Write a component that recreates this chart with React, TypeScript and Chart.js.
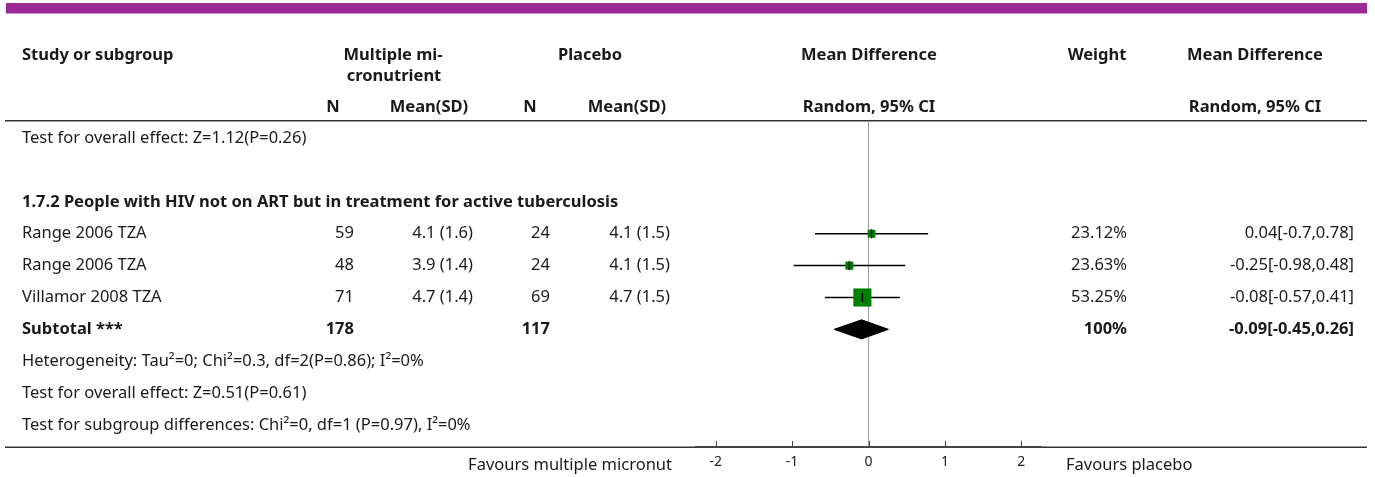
import React, { useEffect, useRef } from "react";
import { Chart, registerables } from "chart.js";

Chart.register(...registerables);

// ---------- data ----------
const studyNames = ["Range 2006 TZA", "Range 2006 TZA", "Villamor 2008 TZA"];
const treatN = [59, 48, 71];
const treatMeanSD = ["4.1 (1.6)", "3.9 (1.4)", "4.7 (1.4)"];
const placeboN = [24, 24, 69];
const placeboMeanSD = ["4.1 (1.5)", "4.1 (1.5)", "4.7 (1.5)"];
const meanDiff = [0.04, -0.25, -0.08];
const ciLower = [-0.7, -0.98, -0.57];
const ciUpper = [0.78, 0.48, 0.41];
const weights = [23.12, 23.63, 53.25];
const subtotalN = [178, 117];
const subtotalEffect = [-0.09, -0.45, 0.26]; // md, lower, upper
const subtotalWeight = "100%";
const xTickValues = [-2, -1, 0, 1, 2];

const prevOverallText = "Test for overall effect: Z=1.12(P=0.26)";
const subgroupTitle = "1.7.2 People with HIV not on ART but in treatment for active tuberculosis";
const heterogeneityText = "Heterogeneity: Tau\u00B2=0; Chi\u00B2=0.3, df=2(P=0.86); I\u00B2=0%";
const overallText = "Test for overall effect: Z=0.51(P=0.61)";
const subgroupDiffText = "Test for subgroup differences: Chi\u00B2=0, df=1 (P=0.97), I\u00B2=0%";
const favoursLeft = "Favours multiple micronut";
const favoursRight = "Favours placebo";

// row indices (layout)
const ROW_PREV = 0;
const ROW_TITLE = 2;
const ROW_STUDY0 = 3;
const ROW_SUB = 6;
const ROW_HET = 7;
const ROW_OVERALL = 8;
const ROW_DIFF = 9;

const FONT = "'Noto Sans', Lato, sans-serif";
const TXT = "#1a1a1a";
const FS = 16.5;

const fmtCI = (m: number, l: number, u: number) => `${m}[${l},${u}]`;

export default function App() {
  const ref = useRef<HTMLCanvasElement | null>(null);

  useEffect(() => {
    const canvas = ref.current;
    if (!canvas) return;

    const studyRows = studyNames.map((_, i) => ROW_STUDY0 + i);

    const ciDatasets = studyRows.map((r, i) => ({
      type: "line" as const,
      data: [
        { x: ciLower[i], y: r },
        { x: ciUpper[i], y: r },
      ],
      borderColor: "#000",
      borderWidth: 1.5,
      pointRadius: 0,
      showLine: true,
      order: 5,
    }));

    const diamondH = 0.3;
    const diamond = {
      type: "line" as const,
      data: [
        { x: subtotalEffect[1], y: ROW_SUB },
        { x: subtotalEffect[0], y: ROW_SUB - diamondH },
        { x: subtotalEffect[2], y: ROW_SUB },
        { x: subtotalEffect[0], y: ROW_SUB + diamondH },
        { x: subtotalEffect[1], y: ROW_SUB },
      ],
      borderColor: "#000",
      backgroundColor: "#000",
      borderWidth: 1,
      pointRadius: 0,
      showLine: true,
      fill: "shape",
      tension: 0,
      order: 3,
    };

    const squares = {
      type: "scatter" as const,
      data: studyRows.map((r, i) => ({ x: meanDiff[i], y: r })),
      pointStyle: "rect",
      pointRadius: weights.map((w) => (w * 0.34) / Math.SQRT2),
      backgroundColor: "#008000",
      borderColor: "#008000",
      borderWidth: 0,
      order: 2,
    };

    const ticksMarks = {
      type: "scatter" as const,
      data: studyRows.map((r, i) => ({ x: meanDiff[i], y: r })),
      pointStyle: "line",
      rotation: 90,
      pointRadius: 4.5,
      borderColor: "#000",
      borderWidth: 1.5,
      order: 1,
    };

    const zeroLine = {
      type: "line" as const,
      data: [
        { x: 0, y: -0.505 },
        { x: 0, y: 9.69 },
      ],
      borderColor: "#9a9a9a",
      borderWidth: 1,
      pointRadius: 0,
      showLine: true,
      order: 10,
    };

    const tablePlugin = {
      id: "forestTable",
      afterDraw(chart: any) {
        const ctx: CanvasRenderingContext2D = chart.ctx;
        const ys = chart.scales.y;
        const xs = chart.scales.x;
        const rowY = (r: number) => ys.getPixelForValue(r);
        ctx.save();

        // purple band
        ctx.fillStyle = "#9c2a96";
        ctx.fillRect(6, 3, 1361, 10.5);

        // rules
        ctx.strokeStyle = "#333";
        ctx.lineWidth = 1.5;
        ctx.beginPath();
        ctx.moveTo(5, 120.75);
        ctx.lineTo(1367, 120.75);
        ctx.moveTo(5, 447.25);
        ctx.lineTo(1367, 447.25);
        ctx.stroke();

        // axis line over the plot width
        ctx.strokeStyle = "#444";
        ctx.lineWidth = 2;
        ctx.beginPath();
        ctx.moveTo(xs.left, 447);
        ctx.lineTo(xs.right, 447);
        ctx.stroke();

        // axis tick marks (upward)
        ctx.strokeStyle = "#444";
        ctx.lineWidth = 1;
        ctx.beginPath();
        xTickValues.forEach((v) => {
          const px = Math.round(xs.getPixelForValue(v)) + 0.5;
          ctx.moveTo(px, 441);
          ctx.lineTo(px, 447);
        });
        ctx.stroke();

        const text = (
          s: string,
          x: number,
          y: number,
          align: CanvasTextAlign,
          bold = false,
          size = FS
        ) => {
          ctx.font = `${bold ? "bold " : ""}${size}px ${FONT}`;
          ctx.textAlign = align;
          ctx.textBaseline = "middle";
          ctx.fillStyle = TXT;
          ctx.fillText(s, x, y);
        };

        // headers
        const h1 = 55;
        const h2 = 107;
        text("Study or subgroup", 22, h1, "left", true);
        text("Multiple mi-", 393, h1, "center", true);
        text("cronutrient", 394, 76, "center", true);
        text("Placebo", 590, h1, "center", true);
        text("Mean Difference", 869, h1, "center", true);
        text("Weight", 1097, h1, "center", true);
        text("Mean Difference", 1255, h1, "center", true);
        text("N", 333, h2, "center", true);
        text("Mean(SD)", 429, h2, "center", true);
        text("N", 530, h2, "center", true);
        text("Mean(SD)", 627, h2, "center", true);
        text("Random, 95% CI", 869, h2, "center", true);
        text("Random, 95% CI", 1255, h2, "center", true);

        // body
        text(prevOverallText, 22, rowY(ROW_PREV), "left");
        text(subgroupTitle, 22, rowY(ROW_TITLE), "left", true);
        studyRows.forEach((r, i) => {
          const y = rowY(r);
          text(studyNames[i], 22, y, "left");
          text(String(treatN[i]), 354, y, "right");
          text(treatMeanSD[i], 473, y, "right");
          text(String(placeboN[i]), 550, y, "right");
          text(placeboMeanSD[i], 670, y, "right");
          text(`${weights[i].toFixed(2)}%`, 1127, y, "right");
          text(fmtCI(meanDiff[i], ciLower[i], ciUpper[i]), 1354, y, "right");
        });
        const ySub = rowY(ROW_SUB);
        text("Subtotal ***", 22, ySub, "left", true);
        text(String(subtotalN[0]), 354, ySub, "right", true);
        text(String(subtotalN[1]), 550, ySub, "right", true);
        text(subtotalWeight, 1127, ySub, "right", true);
        text(fmtCI(subtotalEffect[0], subtotalEffect[1], subtotalEffect[2]), 1354, ySub, "right", true);
        text(heterogeneityText, 22, rowY(ROW_HET), "left");
        text(overallText, 22, rowY(ROW_OVERALL), "left");
        text(subgroupDiffText, 22, rowY(ROW_DIFF), "left");

        // favours
        text(favoursLeft, 672, 465, "right");
        text(favoursRight, 1066, 465, "left");

        ctx.restore();
      },
    };

    const chart = new Chart(canvas, {
      type: "scatter",
      data: {
        datasets: [ticksMarks, squares, diamond, ...ciDatasets, zeroLine] as any,
      },
      options: {
        animation: false,
        responsive: false,
        devicePixelRatio: 1,
        layout: { padding: { left: 695, right: 333, top: 122, bottom: 0 } },
        plugins: {
          legend: { display: false },
          tooltip: { enabled: false },
        },
        scales: {
          x: {
            type: "linear",
            min: -2.27,
            max: 2.27,
            afterBuildTicks: (scale: any) => {
              scale.ticks = xTickValues.map((v) => ({ value: v }));
            },
            afterFit: (scale: any) => {
              scale.height = 30;
            },
            grid: { display: false, drawOnChartArea: false, drawTicks: false },
            border: { display: false },
            ticks: {
              padding: 7,
              color: "#222",
              font: { family: FONT, size: 14 },
              callback: (v: any) => String(v),
              autoSkip: false,
              maxRotation: 0,
            },
          },
          y: {
            type: "linear",
            display: false,
            reverse: true,
            min: -0.505,
            max: 9.69,
          },
        },
      } as any,
      plugins: [tablePlugin],
    });

    return () => chart.destroy();
  }, []);

  return (
    <div style={{ position: "absolute", left: 0, top: 0, width: 1375, height: 477, background: "#fff" }}>
      <canvas ref={ref} width={1375} height={477} style={{ width: 1375, height: 477, display: "block" }} />
    </div>
  );
}
